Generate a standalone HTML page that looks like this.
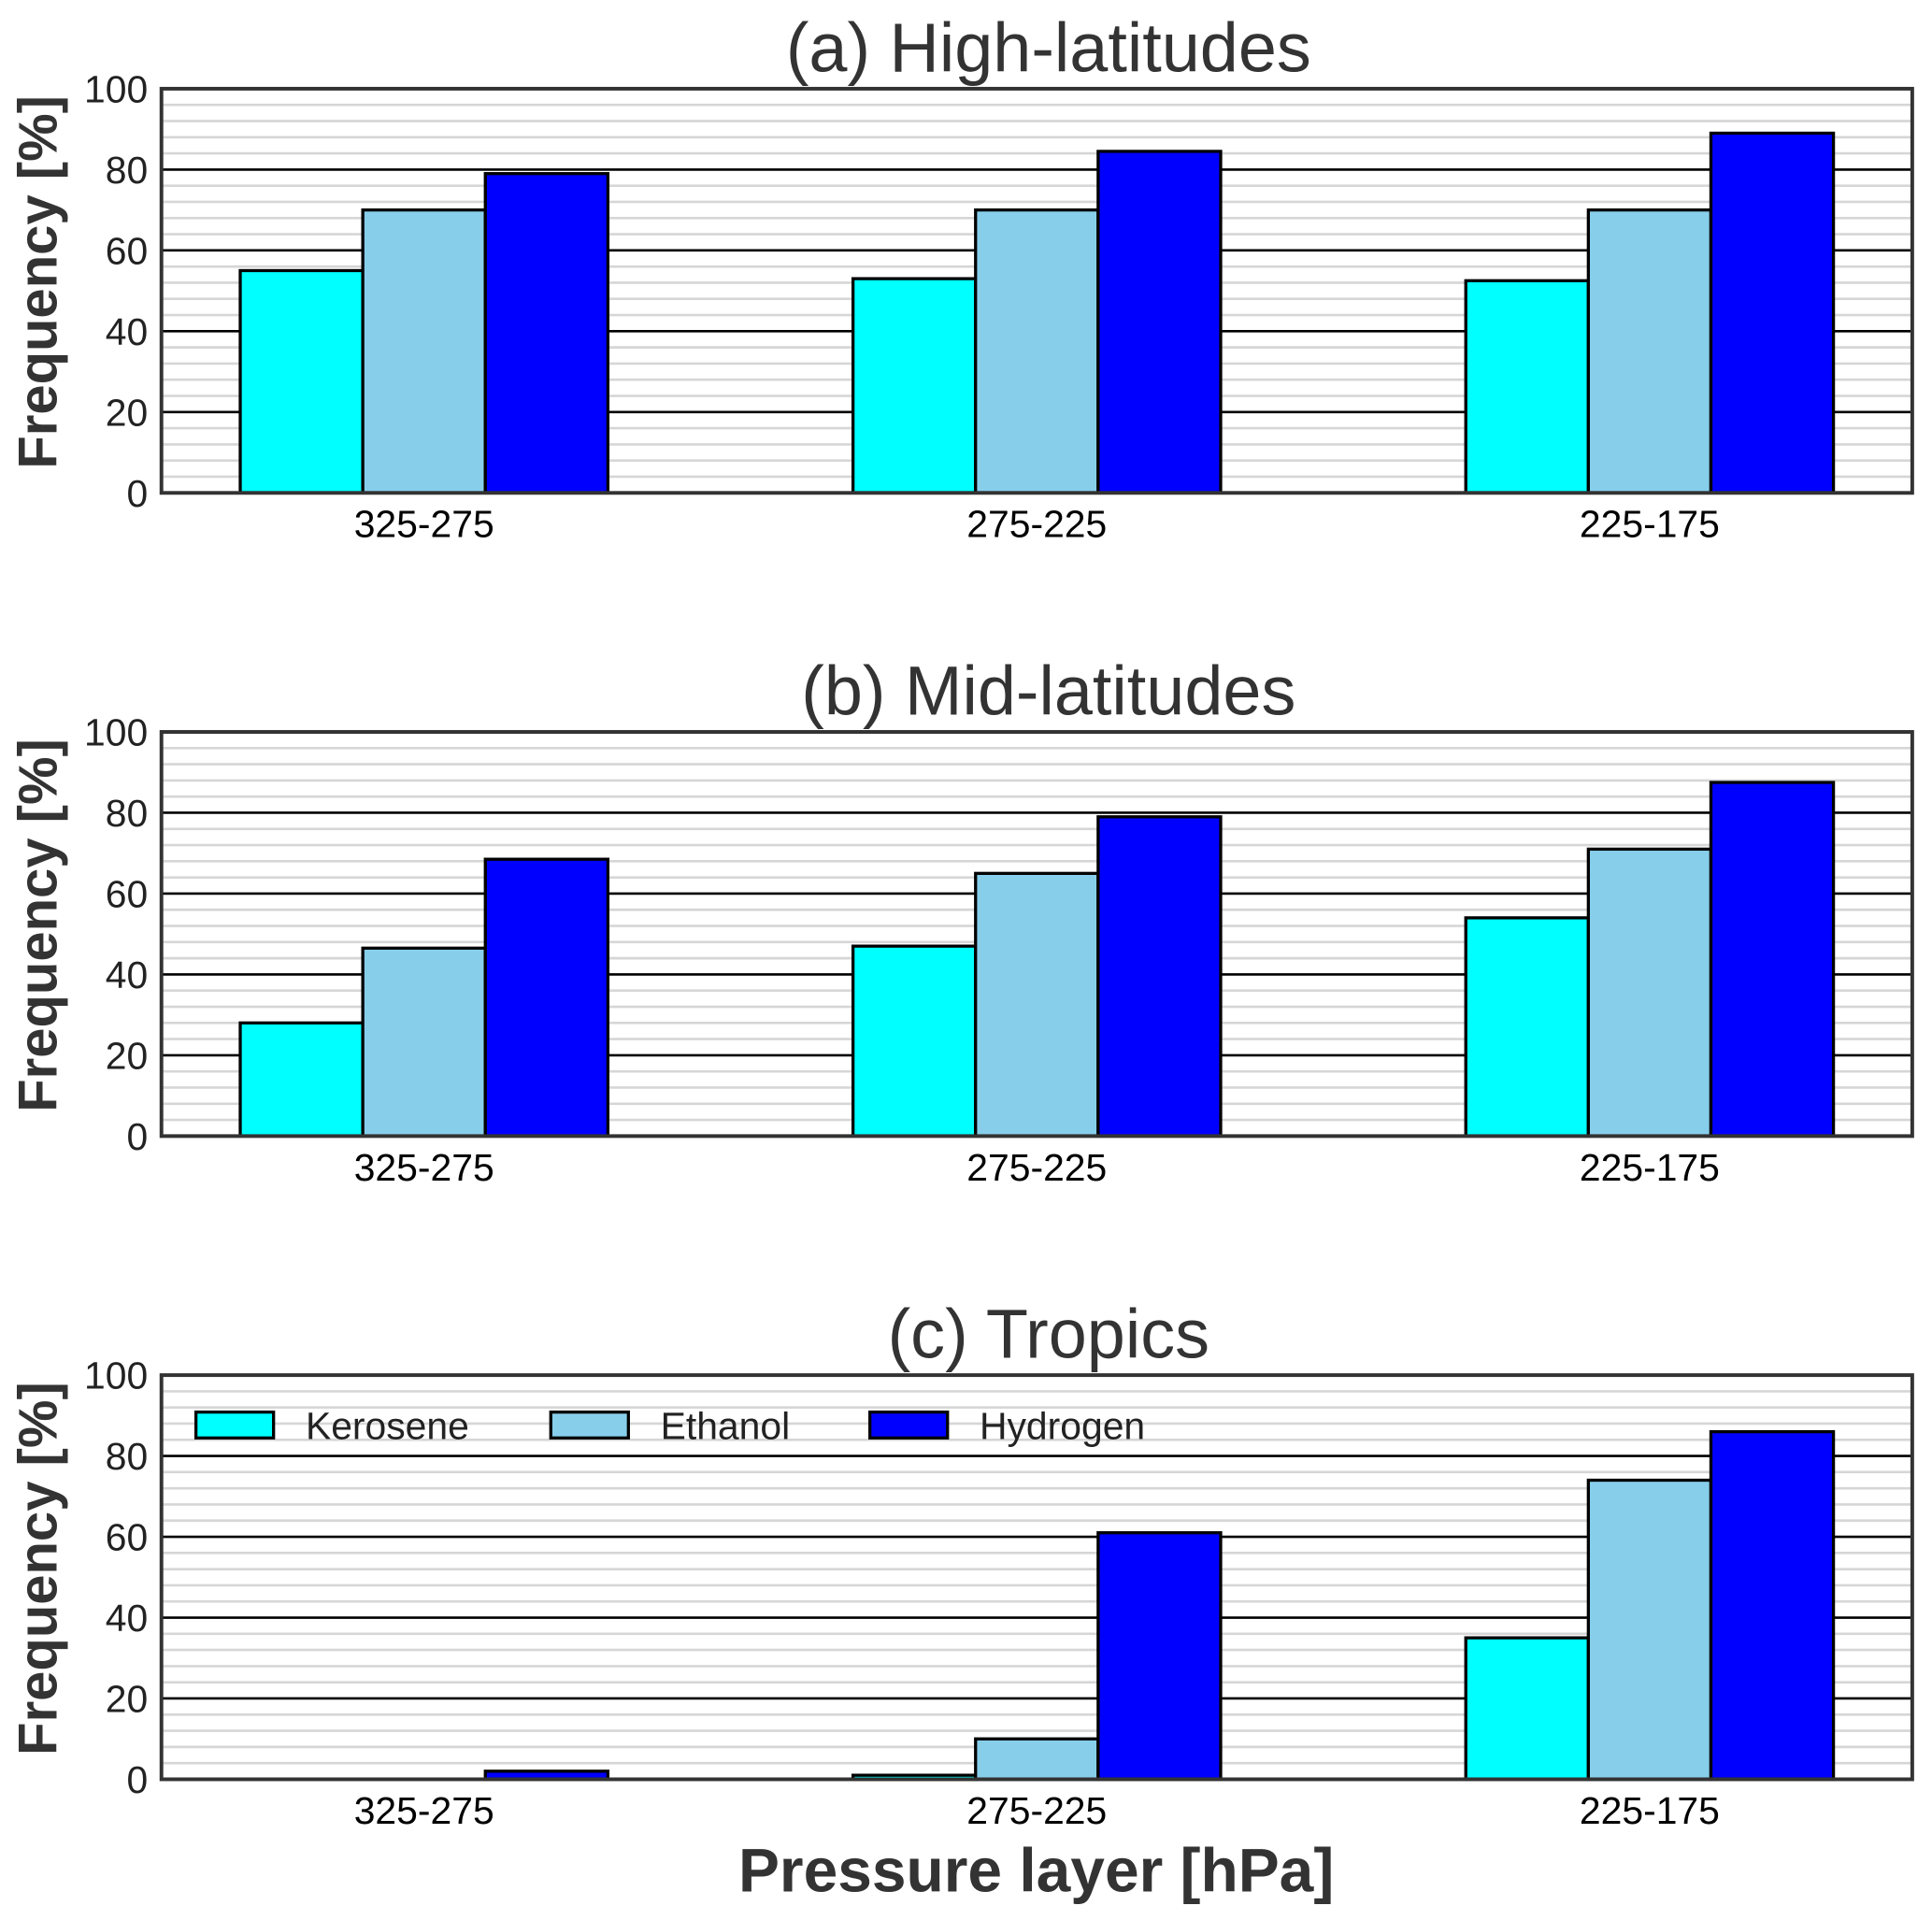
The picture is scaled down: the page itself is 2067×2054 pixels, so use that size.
<!DOCTYPE html>
<html><head><meta charset="utf-8"><style>
html,body{margin:0;padding:0;background:#fff}
svg{display:block}
text{font-family:"Liberation Sans",sans-serif}
</style></head><body>
<svg id="chart" width="2067" height="2054" viewBox="0 0 1568 1558.2" xmlns="http://www.w3.org/2000/svg"></svg>
<script>
const categories = ["325-275","275-225","225-175"];
const seriesNames = ["Kerosene","Ethanol","Hydrogen"];
const panelTitles = ["(a) High-latitudes","(b) Mid-latitudes","(c) Tropics"];
const keroseneVals = [[55,53,52.5],[28,47,54],[0,1,35]];
const ethanolVals = [[70,70,70],[46.5,65,71],[0,10,74]];
const hydrogenVals = [[79,84.5,89],[68.5,79,87.5],[2,61,86]];
const yTicks = [0,20,40,60,80,100];

const colors = ["#00ffff","#87ceeb","#0000ff"];
const NS = "http://www.w3.org/2000/svg";
const svg = document.getElementById('chart');
function mk(tag, attrs, parent){const e=document.createElementNS(NS,tag);for(const k in attrs)e.setAttribute(k,attrs[k]);(parent||svg).appendChild(e);return e;}

const L=131,R=1552;
const panelTops=[72,594,1116];
const PH=328;
const allVals=[keroseneVals,ethanolVals,hydrogenVals];

panelTops.forEach((top,p)=>{
  const bottom=top+PH;
  const y=v=>bottom-v/100*PH;
  const xc=i=>L+(0.15+0.35*i)*(R-L);
  const bw=0.07*(R-L);
  const g=mk('g',{});
  
  
  for(let v=4;v<100;v+=4){ if(v%20===0)continue;
    const l=mk('line',{x1:L,x2:R,y1:y(v),y2:y(v),stroke:'#d6d6d6','stroke-width':2},g);
    
    
  }
  yTicks.forEach(v=>{
    if(v>0&&v<100){
      const l=mk('line',{x1:L,x2:R,y1:y(v),y2:y(v),stroke:'#000','stroke-width':2},g);
      
      
    }
    const t=mk('text',{x:L-11,y:y(v)+11,'text-anchor':'end','font-size':31,fill:'#222'},g);
    t.textContent=v;
    
    
  });
  categories.forEach((c,i)=>{
    for(let s=0;s<3;s++){
      const v=allVals[s][p][i];
      if(v<=0)continue;
      const x0=xc(i)+(s-1.5)*bw;
      const r=mk('rect',{x:x0,y:y(v),width:bw,height:bottom-y(v),fill:colors[s],stroke:'#000','stroke-width':2.5},g);
      
      
    }
    const t=mk('text',{x:xc(i),y:bottom+36,'text-anchor':'middle','font-size':31,fill:'#000'},g);
    t.textContent=c;
    
    
  });
  const ax=mk('rect',{x:L,y:top,width:R-L,height:PH,fill:'none',stroke:'#333','stroke-width':3},g);
  
  
  const tt=mk('text',{x:851,y:top-14,'text-anchor':'middle','font-size':56,fill:'#333'},g);
  tt.textContent=panelTitles[p];
  
  
  const yl=mk('text',{x:0,y:0,'text-anchor':'middle','font-size':44,'font-weight':'bold',fill:'#333',transform:`translate(46,${top+PH/2-7}) rotate(-90)`},g);
  yl.textContent='Frequency [%]';
  
  
});

const lg=mk('g',{});


const legX=[159,447,706];
seriesNames.forEach((n,s)=>{
  const r=mk('rect',{x:legX[s],y:1146,width:63,height:21,fill:colors[s],stroke:'#000','stroke-width':2.5},lg);
  
  
  const t=mk('text',{x:legX[s]+89,y:1168,'font-size':31,fill:'#222'},lg);
  t.textContent=n;
  
  
});

const xl=mk('text',{x:841,y:1535,'text-anchor':'middle','font-size':50,'font-weight':'bold',fill:'#333'});
xl.textContent='Pressure layer [hPa]';


</script>
</body></html>
